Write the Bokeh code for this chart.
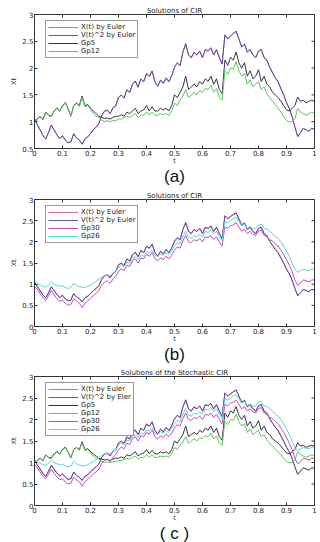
import math
from bokeh.plotting import figure
from bokeh.layouts import column
from bokeh.models import Range1d, FixedTicker, NumeralTickFormatter, Title
from bokeh.embed import file_html
from bokeh.resources import INLINE

# time grid of the simulated paths
t = [0.00, 0.01, 0.02, 0.03, 0.04, 0.05, 0.06, 0.07, 0.08, 0.09,
     0.10, 0.11, 0.12, 0.13, 0.14, 0.15, 0.16, 0.17, 0.18, 0.19,
     0.20, 0.21, 0.22, 0.23, 0.24, 0.25, 0.26, 0.27, 0.28, 0.29,
     0.30, 0.31, 0.32, 0.33, 0.34, 0.35, 0.36, 0.37, 0.38, 0.39,
     0.40, 0.41, 0.42, 0.43, 0.44, 0.45, 0.46, 0.47, 0.48, 0.49,
     0.50, 0.51, 0.52, 0.53, 0.54, 0.55, 0.56, 0.57, 0.58, 0.59,
     0.60, 0.61, 0.62, 0.63, 0.64, 0.65, 0.66, 0.67, 0.68, 0.69,
     0.70, 0.71, 0.72, 0.73, 0.74, 0.75, 0.76, 0.77, 0.78, 0.79,
     0.80, 0.81, 0.82, 0.83, 0.84, 0.85, 0.86, 0.87, 0.88, 0.89,
     0.90, 0.91, 0.92, 0.93, 0.94, 0.95, 0.96, 0.97, 0.98, 0.99, 1.00]

# X(t) by Euler
x_euler = [1.05, 0.94, 0.84, 0.75, 0.67, 0.79, 0.93, 0.84, 0.75, 0.69,
           0.73, 0.65, 0.60, 0.63, 0.77, 0.70, 0.65, 0.59, 0.67, 0.71,
           0.78, 0.84, 0.90, 0.96, 1.11, 1.19, 1.21, 1.15, 1.25, 1.29,
           1.45, 1.49, 1.44, 1.59, 1.54, 1.69, 1.75, 1.64, 1.79, 1.74,
           1.89, 1.84, 1.94, 1.75, 1.66, 1.77, 1.71, 1.81, 1.74, 1.85,
           2.01, 2.09, 2.04, 2.29, 2.44, 2.24, 2.19, 2.29, 2.24, 2.31,
           2.19, 2.34, 2.31, 2.37, 2.24, 2.34, 2.19, 2.07, 2.61, 2.54,
           2.59, 2.64, 2.68, 2.54, 2.39, 2.44, 2.29, 2.34, 2.24, 2.19,
           2.31, 2.34, 2.19, 2.14, 2.01, 1.91, 1.81, 1.74, 1.61, 1.49,
           1.35, 1.24, 1.09, 0.90, 0.73, 0.80, 0.87, 0.85, 0.82, 0.87, 0.86]

# V(t)^2 by Euler
v_euler = [1.05, 0.95, 0.85, 0.74, 0.68, 0.80, 0.94, 0.85, 0.76, 0.68,
           0.74, 0.66, 0.61, 0.62, 0.78, 0.70, 0.66, 0.58, 0.68, 0.72,
           0.78, 0.85, 0.90, 0.97, 1.12, 1.20, 1.22, 1.15, 1.26, 1.30,
           1.46, 1.50, 1.44, 1.60, 1.55, 1.70, 1.76, 1.65, 1.80, 1.75,
           1.90, 1.85, 1.95, 1.75, 1.66, 1.78, 1.72, 1.82, 1.75, 1.86,
           2.02, 2.10, 2.05, 2.30, 2.46, 2.25, 2.20, 2.30, 2.25, 2.32,
           2.20, 2.35, 2.32, 2.38, 2.25, 2.35, 2.20, 2.08, 2.62, 2.55,
           2.60, 2.65, 2.69, 2.55, 2.40, 2.45, 2.30, 2.35, 2.25, 2.20,
           2.32, 2.35, 2.20, 2.15, 2.02, 1.92, 1.82, 1.75, 1.62, 1.50,
           1.36, 1.25, 1.10, 0.90, 0.72, 0.80, 0.88, 0.85, 0.82, 0.88, 0.86]

gp5 = [1.00, 1.05, 1.10, 1.04, 1.18, 1.12, 1.10, 1.20, 1.26, 1.20,
       1.30, 1.36, 1.24, 1.11, 1.30, 1.35, 1.30, 1.48, 1.30, 1.32,
       1.25, 1.20, 1.15, 1.10, 1.08, 1.06, 1.07, 1.05, 1.08, 1.10,
       1.10, 1.13, 1.10, 1.18, 1.15, 1.20, 1.25, 1.15, 1.20, 1.22,
       1.30, 1.20, 1.28, 1.20, 1.20, 1.25, 1.22, 1.25, 1.20, 1.30,
       1.50, 1.45, 1.55, 1.65, 1.85, 1.60, 1.65, 1.70, 1.65, 1.75,
       1.70, 1.80, 1.75, 1.85, 1.70, 1.80, 1.60, 1.52, 2.15, 2.05,
       2.20, 2.15, 2.30, 2.10, 2.00, 2.10, 1.85, 1.95, 1.80, 1.85,
       1.97, 1.75, 1.85, 1.70, 1.65, 1.55, 1.50, 1.45, 1.38, 1.30,
       1.22, 1.20, 1.25, 1.30, 1.46, 1.38, 1.40, 1.35, 1.38, 1.40, 1.38]

gp12 = [1.00, 1.04, 1.09, 1.03, 1.17, 1.11, 1.09, 1.19, 1.25, 1.19,
        1.29, 1.35, 1.23, 1.10, 1.29, 1.34, 1.28, 1.45, 1.28, 1.30,
        1.23, 1.15, 1.10, 1.08, 1.03, 1.00, 1.02, 1.00, 1.02, 1.02,
        1.05, 1.05, 1.07, 1.10, 1.08, 1.12, 1.15, 1.08, 1.12, 1.12,
        1.18, 1.12, 1.18, 1.12, 1.12, 1.15, 1.13, 1.15, 1.12, 1.20,
        1.35, 1.30, 1.40, 1.48, 1.60, 1.45, 1.50, 1.55, 1.50, 1.58,
        1.55, 1.62, 1.60, 1.68, 1.55, 1.62, 1.45, 1.40, 1.95, 1.88,
        2.00, 1.98, 2.12, 1.95, 1.85, 1.90, 1.70, 1.78, 1.65, 1.70,
        1.75, 1.60, 1.65, 1.52, 1.45, 1.38, 1.32, 1.25, 1.18, 1.10,
        1.02, 1.00, 1.00, 1.05, 1.25, 1.18, 1.15, 1.12, 1.15, 1.18, 1.15]

gp30 = [0.95, 0.88, 0.78, 0.68, 0.62, 0.72, 0.85, 0.75, 0.66, 0.60,
        0.62, 0.55, 0.50, 0.52, 0.66, 0.60, 0.55, 0.45, 0.55, 0.60,
        0.67, 0.73, 0.78, 0.85, 0.98, 1.05, 1.08, 1.02, 1.12, 1.18,
        1.30, 1.36, 1.32, 1.45, 1.42, 1.55, 1.60, 1.50, 1.62, 1.60,
        1.70, 1.66, 1.75, 1.60, 1.55, 1.62, 1.58, 1.66, 1.60, 1.68,
        1.80, 1.88, 1.85, 2.02, 2.15, 2.00, 1.98, 2.05, 2.02, 2.08,
        2.00, 2.12, 2.10, 2.15, 2.05, 2.12, 2.00, 1.90, 2.35, 2.32,
        2.38, 2.40, 2.45, 2.35, 2.25, 2.30, 2.20, 2.25, 2.18, 2.15,
        2.25, 2.28, 2.15, 2.12, 2.05, 2.02, 1.95, 1.90, 1.80, 1.70,
        1.58, 1.45, 1.30, 1.10, 0.97, 1.02, 1.10, 1.08, 1.05, 1.10, 1.10]

gp26 = [1.05, 1.02, 0.98, 0.95, 0.93, 0.98, 1.05, 1.00, 0.97, 0.95,
        0.96, 0.92, 0.90, 0.92, 1.02, 0.97, 0.94, 0.93, 0.92, 0.95,
        0.98, 1.02, 1.07, 1.12, 1.17, 1.20, 1.22, 1.20, 1.25, 1.30,
        1.40, 1.45, 1.42, 1.52, 1.50, 1.60, 1.65, 1.58, 1.68, 1.66,
        1.76, 1.74, 1.80, 1.68, 1.65, 1.72, 1.68, 1.75, 1.70, 1.78,
        1.90, 1.98, 1.95, 2.12, 2.25, 2.10, 2.08, 2.15, 2.12, 2.18,
        2.12, 2.25, 2.22, 2.28, 2.18, 2.25, 2.12, 2.02, 2.48, 2.45,
        2.50, 2.55, 2.58, 2.48, 2.38, 2.42, 2.32, 2.36, 2.30, 2.32,
        2.40, 2.42, 2.32, 2.30, 2.25, 2.20, 2.12, 2.08, 2.00, 1.90,
        1.78, 1.65, 1.50, 1.35, 1.28, 1.32, 1.35, 1.33, 1.32, 1.36, 1.36]

x_ticks = [0, 0.1, 0.2, 0.3, 0.4, 0.5, 0.6, 0.7, 0.8, 0.9, 1]
y_ticks = [0, 0.5, 1, 1.5, 2, 2.5, 3]

FONT = "DejaVu Sans"
CAP_FONT = "Liberation Sans"
TXT = "#222222"
BOX = "#333333"

series = {
    "x":    ("X(t) by Euler", x_euler, "#d0708c", 1.0),
    "v":    ("V(t)^2 by Euler", v_euler, "#46399c", 0.85),
    "gp5":  ("Gp5", gp5, "#3a3048", 1.0),
    "gp12": ("Gp12", gp12, "#5cc65c", 1.0),
    "gp30": ("Gp30", gp30, "#c24cc6", 1.0),
    "gp26": ("Gp26", gp26, "#5ad4d4", 1.0),
}


def panel(title, keys, ymin, caption, frame_h, top, cap_shift, labels=None):
    p = figure(frame_width=280, frame_height=frame_h,
               output_backend="svg", toolbar_location=None,
               x_range=Range1d(0, 1), y_range=Range1d(ymin, 3),
               min_border_left=34, min_border_right=6,
               min_border_top=top, min_border_bottom=40,
               background_fill_color="white", border_fill_color="white")
    p.title.text = title
    p.title.text_font = FONT
    p.title.text_font_size = "7px"
    p.title.text_font_style = "normal"
    p.title.text_color = TXT
    p.title.align = "center"
    p.title.standoff = 0
    p.outline_line_color = BOX
    p.grid.visible = False

    for k in keys:
        name, vals, col, alpha = series[k]
        lab = labels.get(k, name) if labels else name
        p.line(t, vals, line_color=col, line_alpha=alpha, line_width=1, legend_label=lab)

    yt = [v for v in y_ticks if v >= ymin]
    p.xaxis.ticker = FixedTicker(ticks=x_ticks)
    p.yaxis.ticker = FixedTicker(ticks=yt)
    p.xaxis.formatter = NumeralTickFormatter(format="0.[0]")
    p.yaxis.formatter = NumeralTickFormatter(format="0.[0]")
    p.xaxis.axis_label = "t"
    p.yaxis.axis_label = "Xt"
    for ax in (p.xaxis[0], p.yaxis[0]):
        ax.major_tick_in = 3
        ax.major_tick_out = 0
        ax.minor_tick_in = 0
        ax.minor_tick_out = 0
        ax.axis_line_color = BOX
        ax.major_tick_line_color = BOX
        ax.major_label_text_font = FONT
        ax.major_label_text_font_size = "7px"
        ax.major_label_text_color = TXT
        ax.major_label_standoff = 1
        ax.axis_label_text_font = FONT
        ax.axis_label_text_font_size = "6.5px"
        ax.axis_label_text_font_style = "normal"
        ax.axis_label_text_color = TXT
    p.xaxis.axis_label_standoff = -2
    p.yaxis.axis_label_standoff = 1

    # inward tick marks along the top and right edges of the box
    p.ray(x=x_ticks, y=[3] * len(x_ticks), length=3, length_units="screen",
          angle=-math.pi / 2, line_color=BOX, line_width=1)
    p.ray(x=[1] * len(yt), y=yt, length=3, length_units="screen",
          angle=math.pi, line_color=BOX, line_width=1)

    p.add_layout(Title(text=caption, text_font=CAP_FONT, text_font_size="17px",
                       text_font_style="normal", text_color="#111111",
                       align="center", standoff=-5, offset=cap_shift), "below")

    lg = p.legend[0]
    n = len(keys)
    lg.location = (11, frame_h - 5 - (round(n * 8.2) + 6))
    lg.padding = 2
    lg.spacing = 0
    lg.glyph_width = 30
    lg.glyph_height = 8
    lg.label_height = 8
    lg.label_standoff = 3
    lg.label_text_font = FONT
    lg.label_text_font_size = "7px"
    lg.label_text_color = TXT
    lg.border_line_color = BOX
    lg.border_line_width = 1
    lg.background_fill_alpha = 1
    return p


pa = panel("Solutions of CIR", ["x", "v", "gp5", "gp12"], 0.5, "(a)", 134, 14, -7)
pb = panel("Solutions of CIR", ["x", "v", "gp30", "gp26"], 0, "(b)", 127, 11, -8)
pc = panel("Solutions of the Stochastic CIR", ["x", "v", "gp5", "gp12", "gp30", "gp26"],
           0, "( c )", 129, 9, -7, labels={"v": "V(t)^2 by Eler"})

layout = column(pa, pb, pc, spacing=0)
open("out.html", "w").write(file_html(layout, INLINE))
